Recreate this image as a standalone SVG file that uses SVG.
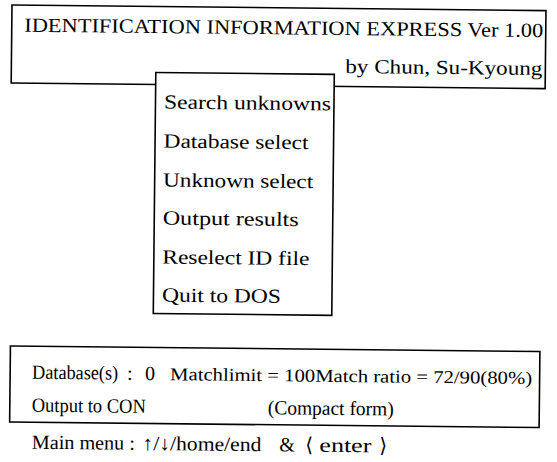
<svg xmlns="http://www.w3.org/2000/svg" width="557" height="462" viewBox="0 0 557 462">
<style>
.box{fill:#fff;stroke:#000;stroke-width:1.6}
.t{font-family:"Liberation Serif","DejaVu Serif",serif;font-size:20px;fill:#000}
.s{font-family:"Liberation Serif","DejaVu Serif",serif;font-size:18px;fill:#000}
</style>
<rect width="557" height="462" fill="#fff"/>
<g transform="rotate(0.6 12 5)">
<g id="title-box">
<rect class="box" x="12" y="5" width="534" height="78"/>
<text class="t" x="24.5" y="31.5" textLength="519" lengthAdjust="spacingAndGlyphs">IDENTIFICATION INFORMATION EXPRESS Ver 1.00</text>
<text class="t" x="346" y="69.5" textLength="197" lengthAdjust="spacingAndGlyphs">by Chun, Su-Kyoung</text>
</g>
<g id="menu">
<rect class="box" x="156.5" y="71" width="178.5" height="241"/>
<text class="t" x="165" y="107" textLength="167" lengthAdjust="spacingAndGlyphs">Search unknowns</text>
<text class="t" x="165" y="146" textLength="145" lengthAdjust="spacingAndGlyphs">Database select</text>
<text class="t" x="165" y="185" textLength="150" lengthAdjust="spacingAndGlyphs">Unknown select</text>
<text class="t" x="165" y="223" textLength="136" lengthAdjust="spacingAndGlyphs">Output results</text>
<text class="t" x="165" y="262" textLength="147" lengthAdjust="spacingAndGlyphs">Reselect ID file</text>
<text class="t" x="165" y="300" textLength="119" lengthAdjust="spacingAndGlyphs">Quit to DOS</text>
</g>
<g id="status-box">
<rect class="box" x="14" y="346" width="529.5" height="76"/>
<text class="t" x="36" y="378.5" textLength="86" lengthAdjust="spacingAndGlyphs">Database(s)</text>
<text class="t" x="131" y="378.5">:</text>
<text class="t" x="149" y="378.5">0</text>
<text class="s" x="174" y="378.5" textLength="362" lengthAdjust="spacingAndGlyphs">Matchlimit = 100Match ratio = 72/90(80%)</text>
<text class="t" x="36" y="411.5" textLength="114" lengthAdjust="spacingAndGlyphs">Output to CON</text>
<text class="t" x="272" y="411.5" textLength="126" lengthAdjust="spacingAndGlyphs">(Compact form)</text>
</g>
<g id="footer">
<text class="t" x="36.5" y="448.5" textLength="103" lengthAdjust="spacingAndGlyphs">Main menu :</text>
<text class="t" x="147" y="448.5" textLength="119" lengthAdjust="spacingAndGlyphs">↑/↓/home/end</text>
<text class="t" x="284" y="448.5">&amp;</text>
<text class="t" x="310" y="448.5">⟨</text>
<text class="t" x="324" y="448.5" textLength="52" lengthAdjust="spacingAndGlyphs">enter</text>
<text class="t" x="384" y="448.5">⟩</text>
</g>
</g>
<g id="connectors"/>
</svg>
